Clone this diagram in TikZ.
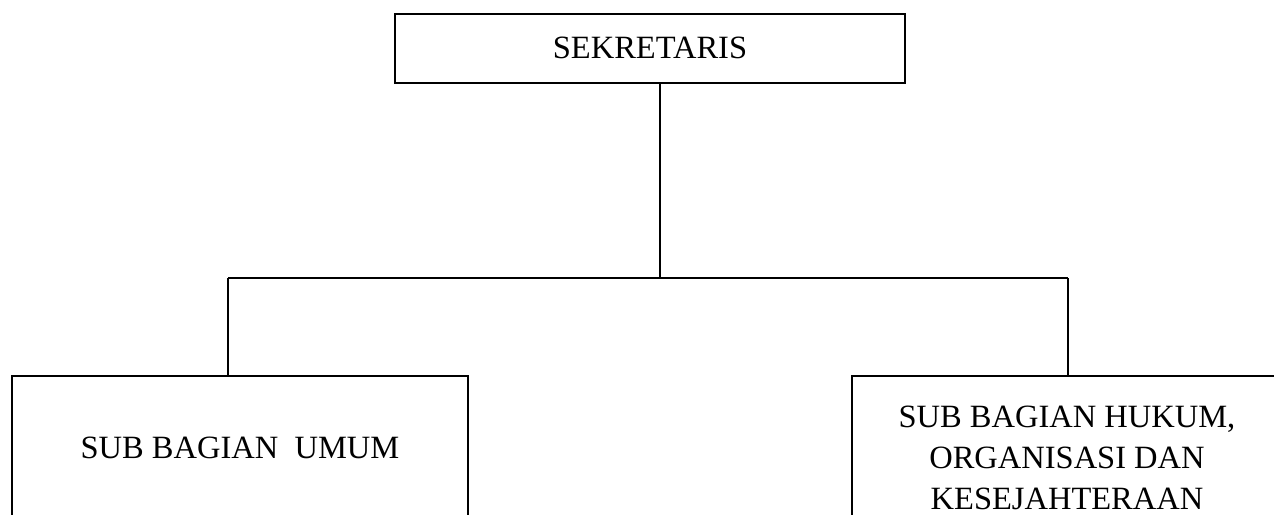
\documentclass[tikz,border=0pt]{standalone}
\usepackage{fontspec}
\setmainfont{Liberation Serif}
\begin{document}
\begin{tikzpicture}[x=1pt,y=-1pt,
  orgbox/.style={draw=black,line width=2pt,inner sep=0pt,align=center,
    font=\fontsize{32.5}{41}\selectfont},
  conn/.style={draw=black,line width=1.8pt}]
\useasboundingbox (0,0) rectangle (1274,514);
\clip (0,0) rectangle (1274,514);
\node[orgbox,minimum width=510pt,minimum height=69pt] (top) at (650,48.5) {\raisebox{2pt}{SEKRETARIS}};
\node[orgbox,minimum width=456pt,minimum height=150pt,anchor=north] (left) at (240,375) {\raisebox{6pt}{SUB BAGIAN\ \ UMUM}};
\node[orgbox,minimum width=430pt,minimum height=164pt,anchor=north] (right) at (1067,375) {SUB BAGIAN HUKUM,\\ORGANISASI DAN\\KESEJAHTERAAN};
\coordinate (j) at (660,278);
\coordinate (cl) at (228,278);
\coordinate (cr) at (1068,278);
\draw[conn] (top.south -| j) -- (j);
\draw[conn] (cl) -- (cr);
\draw[conn] (cl) -- (cl |- left.north);
\draw[conn] (cr) -- (cr |- right.north);
\end{tikzpicture}
\end{document}
